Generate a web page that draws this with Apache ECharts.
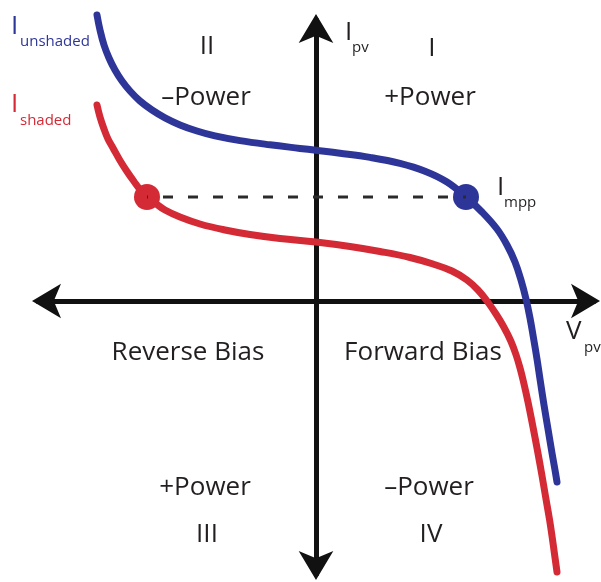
<!DOCTYPE html>
<html>
<head>
<meta charset="utf-8">
<script src="https://cdn.jsdelivr.net/npm/echarts@6/dist/echarts.min.js"></script>
<style>
  html, body { margin: 0; padding: 0; background: #ffffff; }
  #chart { width: 601px; height: 582px; }
</style>
</head>
<body>
<div id="chart"></div>
<script>
// I–V characteristic of a PV cell, unshaded vs. shaded (arbitrary units)
const vUnshaded = [-21.9, -21.6, -21.2, -20.7, -20.1, -19.4, -18.6, -17.6, -16.4, -15.1, -13.6, -11.9, -10.1, -7.6, -4.6, -1.6, 0,
                   2.4, 5.4, 8.4, 10.9, 13.1, 15.0, 16.6, 18.1, 19.1, 19.9, 20.5, 21.0, 21.4, 21.75, 22.1, 22.43, 22.8, 23.2, 23.6, 23.9, 24.1];
const iUnshaded = [28.6, 27.1, 25.6, 24.3, 23.1, 22.0, 21.0, 20.0, 19.1, 18.32, 17.61, 17.0, 16.51, 16.04, 15.62, 15.26, 15.07,
                   14.78, 14.36, 13.76, 12.98, 11.9, 10.4, 8.9, 7.2, 5.6, 3.9, 2.1, 0.2, -1.7, -3.7, -5.8, -8.0, -10.4, -12.8, -15.2, -16.9, -18.1];

const vShaded = [-21.9, -21.6, -21.2, -20.8, -20.3, -19.6, -18.9, -18.2, -17.6, -16.9, -16.1, -15.1, -13.6, -11.6, -9.1, -6.6, -3.6, 0,
                 3.4, 6.4, 9.4, 11.7, 13.6, 15.1, 16.2, 17.1, 18.0, 18.78, 19.48, 20.01, 20.43, 20.8, 21.2, 21.64, 22.1, 22.57, 22.98, 23.36, 23.63, 23.85, 24.1];
const iShaded = [19.6, 18.4, 17.2, 16.2, 15.3, 14.05, 12.95, 11.95, 11.15, 10.4, 9.8, 9.1, 8.4, 7.7, 7.1, 6.65, 6.25, 5.9,
                 5.45, 4.95, 4.35, 3.7, 3.0, 2.1, 1.1, 0, -1.3, -2.6, -4.0, -5.4, -6.8, -8.3, -10.1, -12.3, -14.7, -17.3, -19.7, -21.9, -23.7, -25.3, -27.1];

// Maximum-power-point current and the voltages where each curve carries it
const iMpp = 10.4;
const vAtMpp = [-16.9, 15.0];   // [shaded, unshaded]

// Quadrant annotations
const quadrantNames = ['I', 'II', 'III', 'IV'];
const powerLabels = ['+Power', '–Power', '+Power', '–Power'];
const biasLabels = ['Reverse Bias', 'Forward Bias'];

const BLUE = '#2e3598';
const RED = '#d42a35';
const INK = '#231f20';
const FONT = "'Open Sans', 'Noto Sans', sans-serif";

const zip = (xs, ys) => xs.map((x, k) => [x, ys[k]]);

const chart = echarts.init(document.getElementById('chart'), null, { renderer: 'canvas' });

function txt(text, x, y, size, color, align) {
  return {
    type: 'text', x: x, y: y, z: 100,
    style: {
      text: text, fill: color || INK,
      font: size + 'px ' + FONT,
      align: align || 'center', verticalAlign: 'middle'
    }
  };
}

const axisLine = {
  onZero: true,
  symbol: ['arrow', 'arrow'],
  symbolSize: [26, 29],
  symbolOffset: [-6, 6],
  lineStyle: { color: '#111111', width: 5 }
};

chart.setOption({
  animation: false,
  backgroundColor: '#ffffff',
  grid: { left: 38, right: 7, top: 20, bottom: 8, containLabel: false, outerBoundsMode: 'none' },
  xAxis: {
    type: 'value', min: -27.8, max: 27.8,
    axisLine: axisLine,
    axisTick: { show: false }, axisLabel: { show: false }, splitLine: { show: false }
  },
  yAxis: {
    type: 'value', min: -27.3, max: 28.1,
    axisLine: axisLine,
    axisTick: { show: false }, axisLabel: { show: false }, splitLine: { show: false }
  },
  series: [
    {
      name: 'unshaded', type: 'line', z: 4,
      data: zip(vUnshaded, iUnshaded),
      smooth: 0.4, symbol: 'none', clip: false,
      lineStyle: { color: BLUE, width: 7, cap: 'round', join: 'round' }
    },
    {
      name: 'shaded', type: 'line', z: 4,
      data: zip(vShaded, iShaded),
      smooth: 0.4, symbol: 'none', clip: false,
      lineStyle: { color: RED, width: 7, cap: 'round', join: 'round' }
    },
    {
      name: 'mpp', type: 'scatter', z: 5, clip: false,
      symbolSize: 26,
      data: [
        { value: [vAtMpp[0], iMpp], itemStyle: { color: RED, opacity: 1 } },
        { value: [vAtMpp[1], iMpp], itemStyle: { color: BLUE, opacity: 1 } }
      ]
    },
    {
      // dashed Impp line joining the two operating points, drawn centre to centre
      name: 'Impp', type: 'line', z: 6,
      data: [[vAtMpp[0], iMpp], [vAtMpp[1], iMpp]],
      symbol: 'none', clip: false,
      lineStyle: { color: '#2b2b2b', width: 3, type: [10, 15], dashOffset: 9 }
    }
  ],
  graphic: [
    // quadrant numerals and power signs
    txt(quadrantNames[1], 207, 47, 26),
    txt(powerLabels[1], 206, 98, 26),
    txt(quadrantNames[0], 432, 49, 26),
    txt(powerLabels[0], 430, 98, 26),
    txt(biasLabels[0], 188, 353, 26),
    txt(biasLabels[1], 423, 353, 26),
    txt(powerLabels[2], 205, 488, 26),
    txt(quadrantNames[2], 207, 535, 26),
    txt(powerLabels[3], 429, 488, 26),
    txt(quadrantNames[3], 431, 535, 26),
    // curve labels
    txt('I', 11, 27, 26, BLUE, 'left'),
    txt('unshaded', 20, 42, 15, BLUE, 'left'),
    txt('I', 11, 105, 26, RED, 'left'),
    txt('shaded', 20, 121, 15, RED, 'left'),
    // axis labels
    txt('I', 345, 33, 26, INK, 'left'),
    txt('pv', 352, 48, 15, INK, 'left'),
    txt('I', 497, 188, 26, INK, 'left'),
    txt('mpp', 504, 203, 15, INK, 'left'),
    txt('V', 566, 332, 26, INK, 'left'),
    txt('pv', 584, 348, 15, INK, 'left')
  ]
});
</script>
</body>
</html>
